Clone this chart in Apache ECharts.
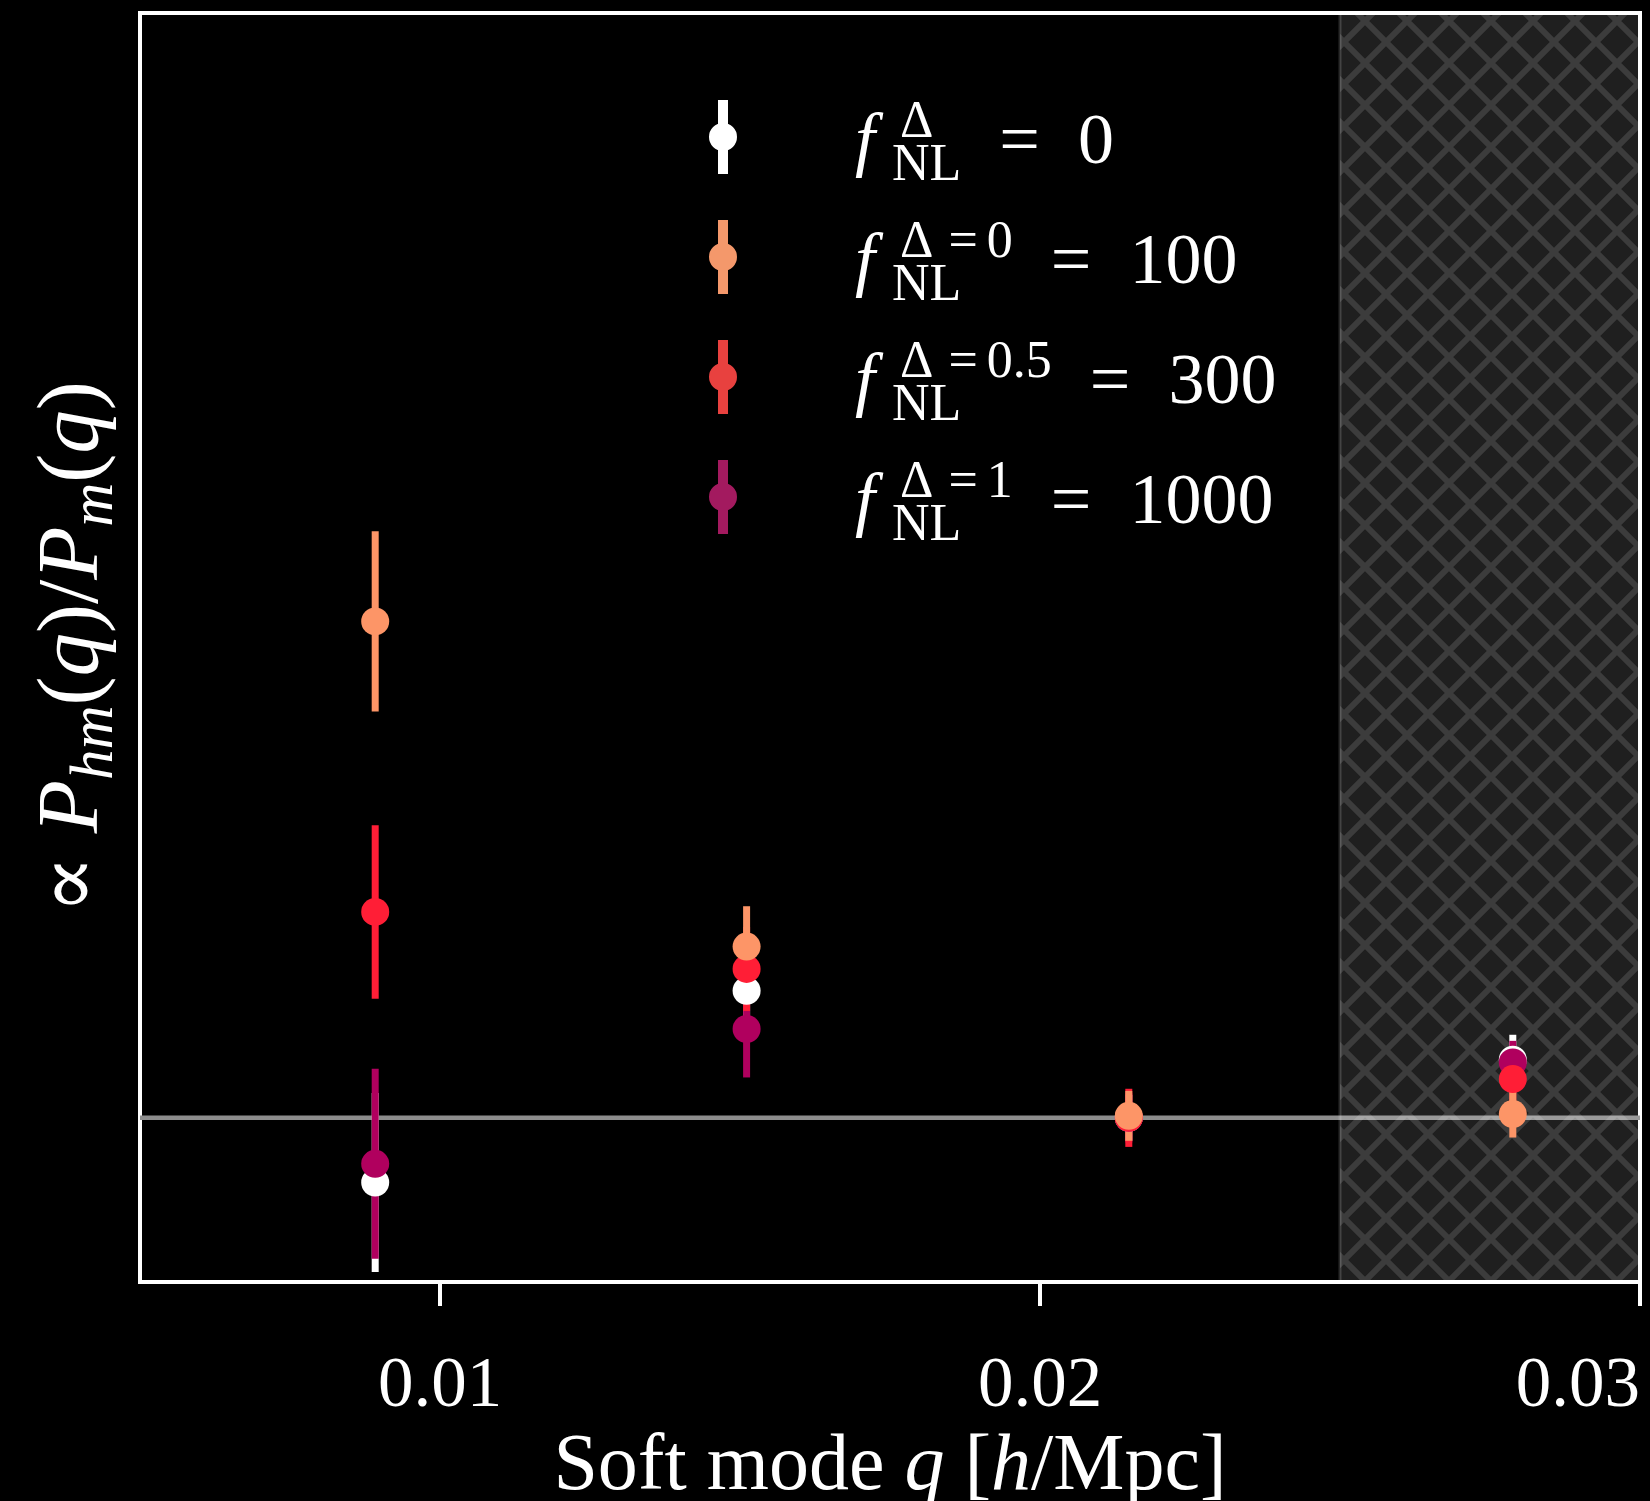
<!DOCTYPE html>
<html>
<head>
<meta charset="utf-8">
<script src="https://cdn.jsdelivr.net/npm/echarts@6/dist/echarts.min.js"></script>
<style>
  html, body { margin: 0; padding: 0; background: #000; }
  #chart { width: 1650px; height: 1501px; }
</style>
</head>
<body>
<div id="chart"></div>
<script>
// Soft-mode bin centres q [h/Mpc]
const qBins = [0.00892, 0.01511, 0.02148, 0.02788];

// Halo-matter / matter power ratio (arbitrary normalisation) and 1-sigma errors per model
const ratioFnl0 = [0.606, 1.774, 1.000, 1.354];
const errFnl0 = [0.545, 0.240, 0.140, 0.152];
const ratioFnl100 = [4.024, 2.043, 1.012, 1.023];
const errFnl100 = [0.549, 0.246, 0.152, 0.143];
const ratioFnl300 = [2.254, 1.907, 1.000, 1.236];
const errFnl300 = [0.529, 0.256, 0.177, 0.150];
const ratioFnl1000 = [0.720, 1.541, 1.000, 1.337];
const errFnl1000 = [0.579, 0.295, 0.150, 0.132];

// Legend entries: f_NL^{sup} = value
const modelNames = ['fnl0', 'fnl100', 'fnl300', 'fnl1000'];
const modelSup = ['Δ', 'Δ=0', 'Δ=0.5', 'Δ=1'];
const modelValue = ['0', '100', '300', '1000'];

// Axes
const qTickValues = [0.01, 0.02, 0.03];
const qTickLabels = ['0.01', '0.02', '0.03'];
const qRange = [0.005, 0.03];
const ratioRange = [0, 7.73];
const unityLevel = 1;
const excludedRange = [0.025, 0.03];

const FONT = '"Liberation Serif", "DejaVu Serif", serif';
const markerColors = ['#ffffff', '#fd9567', '#ff1e36', '#b0005e'];
const legendColors = ['#ffffff', '#f4986b', '#e8413f', '#a31a5f'];
const ratios = [ratioFnl0, ratioFnl100, ratioFnl300, ratioFnl1000];
const errors = [errFnl0, errFnl100, errFnl300, errFnl1000];
// painting order: later models sit on top
const drawOrder = [0, 3, 2, 1];

// cross-hatch tile for the excluded q range
function hatchTile() {
  const T = 42;
  const c = document.createElement('canvas');
  c.width = T; c.height = T;
  const g = c.getContext('2d');
  g.fillStyle = 'rgba(255,255,255,0.12)';
  g.fillRect(0, 0, T, T);
  g.beginPath();
  for (let k = -1; k <= 1; k++) {
    g.moveTo(k * T, 0); g.lineTo(k * T + T, T);
    g.moveTo(k * T + T, 0); g.lineTo(k * T, T);
  }
  g.strokeStyle = 'rgba(255,255,255,0.13)';
  g.lineWidth = 6;
  g.stroke();
  return c;
}
const tile = hatchTile();

// text measuring for the stacked super/subscripts in the legend
const meas = document.createElement('canvas').getContext('2d');
function textWidth(str, size, style) {
  meas.font = (style || '') + ' ' + size + 'px "Liberation Serif"';
  return meas.measureText(str).width;
}

const FS = 72, SS = 52, LINE = 110;
const legendRich = {
  lead: { width: 113, fontSize: FS, lineHeight: LINE, color: '#fff' },
  f: { fontSize: FS, fontStyle: 'italic', verticalAlign: 'bottom', padding: [0, 0, 12, 0], color: '#fff' },
  kern: { width: 17, fontSize: 20, lineHeight: 10, color: '#fff' },
  subZ: { width: 1, fontSize: SS, verticalAlign: 'bottom', color: '#fff' },
  supD: { fontSize: SS, verticalAlign: 'top', padding: [15, 6, 0, 7], color: '#fff' },
  supEq: { fontSize: SS, verticalAlign: 'top', padding: [15, 9, 0, 9], color: '#fff' },
  sup: { fontSize: SS, verticalAlign: 'top', padding: [15, 0, 0, 0], color: '#fff' },
  eq: { fontSize: FS, verticalAlign: 'bottom', padding: [0, 38, 12, 10], color: '#fff' },
  val: { fontSize: FS, verticalAlign: 'bottom', padding: [0, 0, 12, 0], color: '#fff' }
};
const legendLabels = {};
modelNames.forEach((name, i) => {
  const sup = modelSup[i];
  let supStr = '';
  let supW = 0;
  for (const ch of sup) {
    if (ch === 'Δ') { supStr += '{supD|Δ}'; supW += textWidth(ch, SS) + 13; }
    else if (ch === '=') { supStr += '{supEq|=}'; supW += textWidth(ch, SS) + 18; }
    else { supStr += '{sup|' + ch + '}'; supW += textWidth(ch, SS); }
  }
  const subW = textWidth('NL', SS);
  const supEnd = 1 + supW;
  const fill = Math.max(subW, supEnd) - supEnd + 28;
  legendRich['fill' + i] = { width: fill, fontSize: 20, lineHeight: 10, color: '#fff' };
  legendLabels[name] = '{lead| }{f|f}{kern| }{subZ|NL}' + supStr +
    '{fill' + i + '| }{eq|=}{val|' + modelValue[i] + '}';
});

const legendIcon = 'path://M-5,-37L5,-37L5,37L-5,37Z M-14,0A14,14 0 1,1 14,0A14,14 0 1,1 -14,0Z';

const series = [];
// unity reference level
series.push({
  type: 'line', name: 'unity', z: 2, silent: true, symbol: 'none',
  data: [[qRange[0], unityLevel], [qRange[1], unityLevel]],
  lineStyle: { color: '#8d8d8d', width: 4.5 }
});
// excluded high-q band
series.push({
  type: 'custom', name: 'excluded', z: 3, silent: true,
  encode: { x: [0, 1] },
  data: [[excludedRange[0], excludedRange[1]]],
  renderItem: (params, api) => {
    const a = api.coord([api.value(0), ratioRange[1]]);
    const b = api.coord([api.value(1), ratioRange[0]]);
    return {
      type: 'group',
      children: [
        { type: 'rect', shape: { x: a[0], y: a[1], width: b[0] - a[0], height: b[1] - a[1] },
          style: { fill: { image: tile, repeat: 'repeat' } } },
        { type: 'line', shape: { x1: a[0], y1: a[1], x2: a[0], y2: b[1] },
          style: { stroke: 'rgba(255,255,255,0.16)', lineWidth: 3 } }
      ]
    };
  }
});
// error bars
drawOrder.forEach(m => {
  series.push({
    type: 'custom', name: modelNames[m], z: 4,
    encode: { x: 0, y: 1 },
    data: qBins.map((q, i) => [q, ratios[m][i], errors[m][i]]),
    renderItem: (params, api) => {
      const x = api.value(0), y = api.value(1), e = api.value(2);
      const top = api.coord([x, y + e]);
      const bot = api.coord([x, y - e]);
      return { type: 'rect', shape: { x: top[0] - 3.5, y: top[1], width: 7, height: bot[1] - top[1] },
        style: { fill: markerColors[m] } };
    }
  });
});
// central values
drawOrder.forEach(m => {
  series.push({
    type: 'scatter', name: modelNames[m], z: 5,
    symbol: 'circle', symbolSize: 28,
    data: qBins.map((q, i) => [q, ratios[m][i]]),
    itemStyle: { color: markerColors[m], opacity: 1 }
  });
});

const chart = echarts.init(document.getElementById('chart'), null, { renderer: 'canvas' });
chart.setOption({
  animation: false,
  backgroundColor: '#000',
  grid: {
    left: 140, right: 10, top: 13, bottom: 219,
    show: true, backgroundColor: '#000', borderColor: '#fff', borderWidth: 4,
    containLabel: false, outerBoundsMode: 'none'
  },
  legend: {
    orient: 'vertical', left: 709, top: 97, padding: 0,
    itemWidth: 28, itemHeight: 74, itemGap: 25,
    icon: legendIcon,
    data: modelNames.map((n, i) => ({ name: n, itemStyle: { color: legendColors[i] } })),
    formatter: name => legendLabels[name],
    textStyle: { color: '#fff', fontFamily: FONT, rich: legendRich }
  },
  xAxis: {
    type: 'value', min: qRange[0], max: qRange[1],
    axisLine: { show: false },
    splitLine: { show: false },
    axisTick: { show: true, inside: false, length: 24, customValues: qTickValues,
      lineStyle: { color: '#fff', width: 4 } },
    axisLabel: {
      customValues: qTickValues, margin: 70, alignMaxLabel: 'right',
      color: '#fff', fontFamily: FONT, fontSize: 71, lineHeight: 71,
      formatter: v => {
        const i = qTickValues.findIndex(t => Math.abs(t - v) < 1e-9);
        return i >= 0 ? qTickLabels[i] : '';
      }
    },
    name: '{r|Soft mode }{i|q}{r| [}{i|h}{r|/Mpc]}',
    nameLocation: 'middle', nameGap: 119,
    nameTextStyle: {
      color: '#fff', fontFamily: FONT,
      rich: {
        r: { fontSize: 80, lineHeight: 90, color: '#fff' },
        i: { fontSize: 80, lineHeight: 90, fontStyle: 'italic', color: '#fff' }
      }
    }
  },
  yAxis: {
    type: 'value', min: ratioRange[0], max: ratioRange[1],
    axisLine: { show: false }, axisTick: { show: false },
    axisLabel: { show: false }, splitLine: { show: false },
    name: '{r|∝ }{i|P}{s|hm}{r|(}{i|q}{r|)/}{i|P}{s|m}{r|(}{i|q}{r|)}',
    nameLocation: 'middle', nameRotate: 90, nameGap: 14,
    nameTextStyle: {
      color: '#fff', fontFamily: FONT,
      rich: {
        r: { fontSize: 87, lineHeight: 104, color: '#fff' },
        i: { fontSize: 87, lineHeight: 104, fontStyle: 'italic', color: '#fff' },
        s: { fontSize: 61, lineHeight: 61, fontStyle: 'italic', verticalAlign: 'bottom', color: '#fff' }
      }
    }
  },
  series: series
});
</script>
</body>
</html>
